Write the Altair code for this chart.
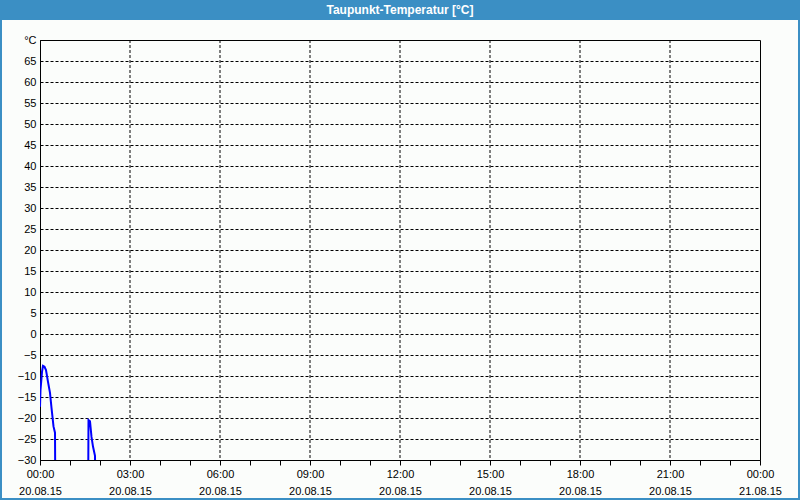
import altair as alt
import pandas as pd

# Dew point readings (time of day, °C); segments break where sensor data drops out
seg1_times = ["00:00", "00:01", "00:04", "00:06", "00:09", "00:12", "00:16", "00:20", "00:23", "00:27", "00:30", "00:31"]
seg1_vals = [-17.3, -13.3, -9.0, -7.6, -7.8, -8.6, -11.4, -14.0, -17.6, -22.0, -23.5, -45.0]
seg2_times = ["01:36", "01:37", "01:40", "01:43", "01:46", "01:50", "01:51"]
seg2_vals = [-45.0, -20.5, -20.8, -24.5, -26.8, -29.0, -45.0]

y_ticks = list(range(-30, 75, 5))
grid_hours = ["03:00", "06:00", "09:00", "12:00", "15:00", "18:00", "21:00"]
title_text = "Taupunkt-Temperatur [°C]"

rows = []
for t, v in zip(seg1_times, seg1_vals):
    rows.append({"time": f"2015-08-20T{t}:00Z", "value": v, "seg": 1})
for t, v in zip(seg2_times, seg2_vals):
    rows.append({"time": f"2015-08-20T{t}:00Z", "value": v, "seg": 2})
df = pd.DataFrame(rows)
grid_df = pd.DataFrame({"time": [f"2015-08-20T{h}:00Z" for h in grid_hours]})

FONT = "Liberation Sans"
BLUE = "#3b8fc4"

x_scale = alt.Scale(
    type="utc",
    domain=[
        alt.DateTime(year=2015, month=8, date=20, hours=0, utc=True),
        alt.DateTime(year=2015, month=8, date=21, hours=0, utc=True),
    ],
    nice=False,
)

x_enc = alt.X(
    "time:T",
    scale=x_scale,
    axis=alt.Axis(
        title=None,
        tickCount=24,
        labelExpr="utchours(datum.value) % 3 == 0 ? [utcFormat(datum.value, '%H:%M'), utcFormat(datum.value, '%d.%m.%y')] : ''",
        labelOverlap=False,
        labelFlush=False,
        labelLineHeight=17,
        labelPadding=3,
        labelFont=FONT,
        labelFontSize=11,
        labelColor="#000000",
        tickSize=5,
        tickColor="#000000",
        domainColor="#000000",
        grid=False,
    ),
)

y_enc = alt.Y(
    "value:Q",
    scale=alt.Scale(domain=[-30, 70], nice=False, zero=False),
    axis=alt.Axis(
        title=None,
        values=y_ticks,
        labelExpr="datum.value == 70 ? '°C' : datum.label",
        ticks=False,
        labelPadding=4,
        labelFont=FONT,
        labelFontSize=11,
        labelColor="#000000",
        domainColor="#000000",
        grid=True,
        gridColor="#000000",
        gridDash=[3, 2],
    ),
)

vgrid = alt.Chart(grid_df).mark_rule(color="#000000", strokeDash=[3, 2], strokeWidth=1).encode(
    x=alt.X("time:T", scale=x_scale)
)

line = alt.Chart(df).mark_line(color="#0000ff", strokeWidth=2, clip=True).encode(
    x=x_enc, y=y_enc, detail="seg:N"
)

one = pd.DataFrame({"k": [0]})
title_bar = alt.Chart(one).mark_rect(color=BLUE).encode(
    x=alt.value(-40), x2=alt.value(760), y=alt.value(-40), y2=alt.value(-20)
)
title_txt = alt.Chart(one).mark_text(
    text=title_text, color="white", font=FONT,
    fontWeight="bold", fontSize=12, baseline="middle", align="center",
).encode(x=alt.value(360), y=alt.value(-30))
frame = alt.Chart(one).mark_rect(fillOpacity=0, stroke=BLUE, strokeWidth=2).encode(
    x=alt.value(-39), x2=alt.value(759), y=alt.value(-39), y2=alt.value(459)
)

chart = alt.layer(vgrid, line, title_bar, title_txt, frame).properties(
    width=720,
    height=420,
    autosize=alt.AutoSizeParams(type="none"),
    padding={"left": 40, "top": 40, "right": 40, "bottom": 40},
    background="#fbfdfb",
).configure_view(stroke="#000000", strokeWidth=1)

chart.save("out.html", embed_options={"renderer": "svg", "actions": False})
